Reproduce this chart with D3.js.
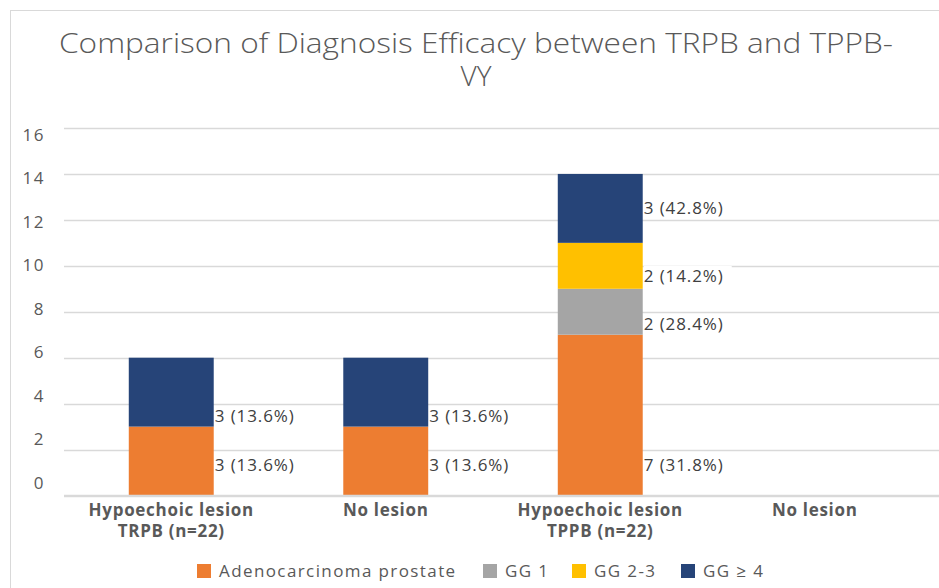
<!DOCTYPE html>
<html>
<head>
<meta charset="utf-8">
<script src="https://cdn.jsdelivr.net/npm/d3@7"></script>
<style>
  body { margin: 0; background: #fff; }
  svg text { font-family: "Open Sans", "DejaVu Sans", sans-serif; }
</style>
</head>
<body>
<div id="chart-container"></div>
<script>
// Data
const categories = ["Hypoechoic lesion|TRPB (n=22)", "No lesion", "Hypoechoic lesion|TPPB (n=22)", "No lesion "];
const seriesNames = ["Adenocarcinoma prostate", "GG 1", "GG 2-3", "GG \u2265 4"];
const adeno = [3, 3, 7, 0];
const gg1 = [0, 0, 2, 0];
const gg23 = [0, 0, 2, 0];
const gg4 = [3, 3, 3, 0];
const labelText = [
    ["3 (13.6%)", "", "", "3 (13.6%)"],
    ["3 (13.6%)", "", "", "3 (13.6%)"],
    ["7 (31.8%)", "2 (28.4%)", "2 (14.2%)", "3 (42.8%)"],
    ["", "", "", ""]
];
// where each label sits, in axis units
const labelAt = [
    [1.34, 0, 0, 3.45],
    [1.34, 0, 0, 3.45],
    [1.34, 7.46, 9.56, 12.5],
    [0, 0, 0, 0]
];
const yTicks = [0, 2, 4, 6, 8, 10, 12, 14, 16];
const colors = ["#ED7D31", "#A5A5A5", "#FFC000", "#264478"];

function init() {
    const width = 939, height = 588;
    const svg = d3.select("#chart-container").append("svg")
        .attr("width", width).attr("height", height);

    // chart frame
    svg.append("rect")
        .attr("x", 10.5).attr("y", 10.5)
        .attr("width", 1000).attr("height", 1000)
        .attr("fill", "none").attr("stroke", "#d9d9d9");

    // title
    const title = svg.append("g")
        .attr("fill", "#595959")
        .style("font-family", "Lato, 'Open Sans', sans-serif")
        .attr("font-weight", 300);
    title.append("text")
        .attr("x", 476).attr("y", 53)
        .attr("text-anchor", "middle")
        .attr("font-size", 28)
        .attr("textLength", 834).attr("lengthAdjust", "spacingAndGlyphs")
        .text("Comparison of Diagnosis Efficacy between TRPB and TPPB-");
    title.append("text")
        .attr("x", 476).attr("y", 86)
        .attr("text-anchor", "middle")
        .attr("font-size", 28)
        .text("VY");

    const x = d3.scaleBand()
        .domain(categories)
        .range([64, 922])
        .paddingInner(0.604)
        .paddingOuter(0.302);

    const y = d3.scaleLinear().domain([0, 16]).range([495.5, 128]);
    // tick labels sit on a slightly compressed scale in the picture
    const yLab = d3.scaleLinear().domain([0, 16]).range([483, 135]);

    // gridlines
    svg.append("g").selectAll("line")
        .data(yTicks)
        .join("line")
        .attr("x1", 64).attr("x2", width)
        .attr("y1", d => Math.round(y(d)) + 0.5)
        .attr("y2", d => Math.round(y(d)) + 0.5)
        .attr("stroke", "#d9d9d9").attr("stroke-width", 1.5);

    svg.append("g").selectAll("text")
        .data(yTicks)
        .join("text")
        .attr("x", 45).attr("y", d => yLab(d))
        .attr("dy", "0.35em")
        .attr("text-anchor", "end")
        .attr("font-size", 17)
        .attr("letter-spacing", 1.5)
        .attr("fill", "#595959")
        .text(d => d);

    // stacked bars
    const rows = categories.map((c, i) => ({
        cat: c, a: adeno[i], g1: gg1[i], g23: gg23[i], g4: gg4[i]
    }));
    const stack = d3.stack().keys(["a", "g1", "g23", "g4"]);
    const series = stack(rows);

    const layers = svg.append("g").selectAll("g")
        .data(series)
        .join("g")
        .attr("fill", (d, i) => colors[i]);

    layers.selectAll("rect")
        .data(d => d.filter(s => s[1] - s[0] > 0))
        .join("rect")
        .attr("x", d => x(d.data.cat))
        .attr("width", x.bandwidth())
        .attr("y", d => y(d[1]))
        .attr("height", d => y(d[0]) - y(d[1]));

    // data labels
    const labels = [];
    categories.forEach((c, i) => {
        labelText[i].forEach((t, k) => {
            if (t) labels.push({ cat: c, text: t, at: labelAt[i][k] });
        });
    });
    const lg = svg.append("g").selectAll("g")
        .data(labels)
        .join("g")
        .attr("transform", d => `translate(${x(d.cat) + x.bandwidth() + 1},${y(d.at)})`);
    lg.append("rect")
        .attr("x", 0).attr("y", -10)
        .attr("width", 88).attr("height", 20)
        .attr("fill", "#fff");
    lg.append("text")
        .attr("x", 0).attr("dy", "0.35em")
        .attr("font-size", 17)
        .attr("letter-spacing", 0.9)
        .attr("fill", "#404040")
        .text(d => d.text);

    // x axis line
    svg.append("line")
        .attr("x1", 64).attr("x2", width)
        .attr("y1", 495.5).attr("y2", 495.5)
        .attr("stroke", "#d9d9d9").attr("stroke-width", 1.5);

    // category labels
    const cl = svg.append("g").selectAll("text")
        .data(categories)
        .join("text")
        .attr("x", d => x(d) + x.bandwidth() / 2)
        .attr("y", 510)
        .attr("text-anchor", "middle")
        .attr("font-size", 17)
        .attr("letter-spacing", 0.7)
        .attr("font-weight", "bold")
        .attr("fill", "#595959");
    cl.selectAll("tspan")
        .data(d => d.trim().split("|"))
        .join("tspan")
        .attr("x", function () { return d3.select(this.parentNode).attr("x"); })
        .attr("dy", (d, i) => i === 0 ? "0.35em" : "1.25em")
        .text(d => d);

    // legend
    const legendX = [197, 483, 572, 681];
    const leg = svg.append("g").selectAll("g")
        .data(seriesNames)
        .join("g")
        .attr("transform", (d, i) => `translate(${legendX[i]},571)`);
    leg.append("rect")
        .attr("x", 0).attr("y", -7)
        .attr("width", 14).attr("height", 14)
        .attr("fill", (d, i) => colors[i]);
    leg.append("text")
        .attr("x", 22).attr("dy", "0.35em")
        .attr("font-size", 17)
        .attr("letter-spacing", 1.4)
        .attr("fill", "#595959")
        .text(d => d);
}

window.onload = init;
</script>
</body>
</html>
